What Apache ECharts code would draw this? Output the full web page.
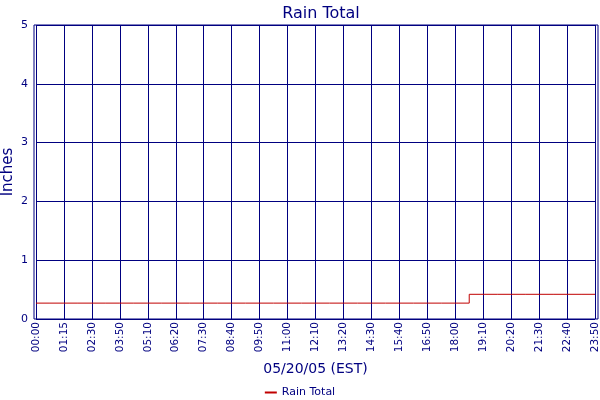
<!DOCTYPE html>
<html>
<head>
<meta charset="utf-8">
<script src="https://cdn.jsdelivr.net/npm/echarts@6/dist/echarts.min.js"></script>
<style>
html,body{margin:0;padding:0;background:#fff;}
#chart{width:600px;height:400px;}
</style>
</head>
<body>
<div id="chart"></div>
<script>
const timeLabels = ['00:00','01:15','02:30','03:50','05:10','06:20','07:30','08:40','09:50','11:00','12:10','13:20','14:30','15:40','16:50','18:00','19:10','20:20','21:30','22:40','23:50'];
const rainTotal = [0.27,0.27,0.27,0.27,0.27,0.27,0.27,0.27,0.27,0.27,0.27,0.27,0.27,0.27,0.27,0.27,0.42,0.42,0.42,0.42,0.42];
const yTicks = [0,1,2,3,4,5];

const navy = '#000080';
const font = 'DejaVu Sans';
const chart = echarts.init(document.getElementById('chart'), null, {renderer:'canvas'});
chart.setOption({
  animation: false,
  backgroundColor: '#ffffff',
  textStyle: {fontFamily: font, color: navy},
  title: {
    text: 'Rain Total',
    left: 316, top: 1, textAlign: 'center',
    textStyle: {fontFamily: font, fontSize: 16, fontWeight: 'normal', color: navy}
  },
  legend: {
    left: 'center', top: 382,
    icon: 'rect', itemWidth: 12, itemHeight: 2, itemGap: 10,
    textStyle: {fontFamily: font, fontSize: 11, color: navy},
    data: ['Rain Total']
  },
  grid: [
    {left: 36, right: 5, top: 25, bottom: 81, containLabel: false, outerBoundsMode: 'none'},
    {left: 34, right: 2, top: 25, bottom: 81, containLabel: false, outerBoundsMode: 'none', show: true, borderColor: navy, borderWidth: 1, backgroundColor: 'transparent'}
  ],
  xAxis: [
    {
      type: 'category', gridIndex: 0, data: timeLabels, boundaryGap: false,
      name: '05/20/05 (EST)', nameLocation: 'middle', nameGap: 43, nameMoveOverlap: false,
      nameTextStyle: {fontFamily: font, fontSize: 14, color: navy},
      axisLine: {show: false}, axisTick: {show: false},
      axisLabel: {interval: 0, rotate: 90, margin: 3, fontFamily: font, fontSize: 10.5, color: navy},
      splitLine: {show: true, interval: 0, lineStyle: {color: navy, width: 1}}
    },
    {type: 'value', gridIndex: 1, show: false, min: 0, max: 1}
  ],
  yAxis: [
    {
      type: 'value', gridIndex: 0, min: yTicks[0], max: yTicks[yTicks.length-1], interval: 1,
      name: 'Inches', nameLocation: 'middle', nameGap: 20, nameMoveOverlap: false,
      nameTextStyle: {fontFamily: font, fontSize: 15, color: navy},
      axisLine: {show: false}, axisTick: {show: false},
      axisLabel: {margin: 8, fontFamily: font, fontSize: 11, color: navy},
      splitLine: {show: true, lineStyle: {color: navy, width: 1}}
    },
    {type: 'value', gridIndex: 1, show: false, min: 0, max: 1}
  ],
  series: [{
    name: 'Rain Total', type: 'line', xAxisIndex: 0, yAxisIndex: 0,
    data: rainTotal, step: 'middle', showSymbol: false, symbol: 'none',
    itemStyle: {color: '#c00000'},
    lineStyle: {color: '#c00000', width: 1}
  }]
});
</script>
</body>
</html>
